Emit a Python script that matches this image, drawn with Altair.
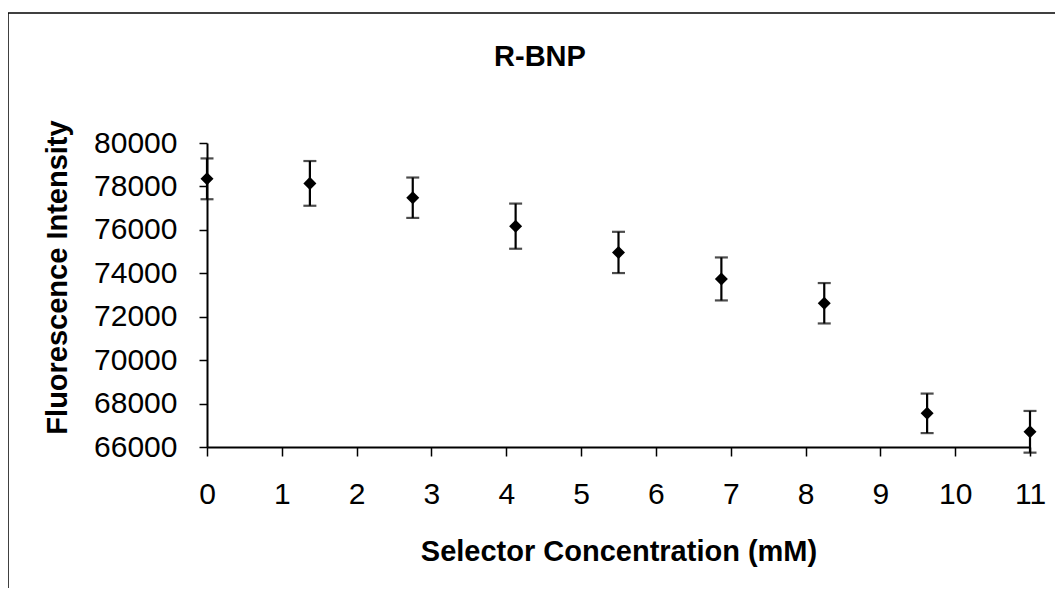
import altair as alt
import pandas as pd

# Data
concentration = [0, 1.375, 2.75, 4.125, 5.5, 6.875, 8.25, 9.625, 11]
intensity = [78350, 78140, 77480, 76170, 74960, 73740, 72620, 67550, 66700]
error = [940, 1030, 930, 1040, 950, 990, 930, 910, 960]
x_ticks = list(range(0, 12))
y_ticks = [66000, 68000, 70000, 72000, 74000, 76000, 78000, 80000]
title_text = "R-BNP"
x_title = "Selector Concentration (mM)"
y_title = "Fluorescence Intensity"

df = pd.DataFrame({
    "conc": concentration,
    "mean": intensity,
    "lo": [m - e for m, e in zip(intensity, error)],
    "hi": [m + e for m, e in zip(intensity, error)],
})

FONT = "Liberation Sans"
W, H = 823, 304

x_enc = alt.X(
    "conc:Q",
    scale=alt.Scale(domain=[0, 11], nice=False, zero=False),
    axis=alt.Axis(
        values=x_ticks, title=x_title, format="d", grid=False, labelFlush=False,
        domainColor="black", domainWidth=2, tickColor="black", tickWidth=1.5,
        tickSize=9, labelPadding=23, labelFont=FONT, labelFontSize=30,
        labelColor="black", titleFont=FONT, titleFontSize=29,
        titleFontWeight="bold", titleColor="black",
        titleBaseline="alphabetic", titleY=113, titleX=W / 2,
    ),
)
y_scale = alt.Scale(domain=[66000, 80000], nice=False, zero=False)
y_enc = alt.Y(
    "mean:Q",
    scale=y_scale,
    axis=alt.Axis(
        values=y_ticks, title=y_title, format="d", grid=False, labelFlush=False,
        domainColor="black", domainWidth=2, tickColor="black", tickWidth=1.5,
        tickSize=8, labelPadding=22, labelFont=FONT, labelFontSize=30,
        labelColor="black", titleFont=FONT, titleFontSize=29,
        titleFontWeight="bold", titleColor="black",
        titleBaseline="alphabetic", titleAngle=270, titleAlign="center",
        titleX=-141, titleY=134,
    ),
)

base = alt.Chart(df)

bars = base.mark_rule(color="black", strokeWidth=2.2).encode(
    x=alt.X("conc:Q", scale=alt.Scale(domain=[0, 11], nice=False)),
    y=alt.Y("lo:Q", scale=y_scale),
    y2="hi:Q",
)
caps_hi = base.mark_tick(color="black", orient="horizontal", size=13, thickness=2.2).encode(
    x="conc:Q", y=alt.Y("hi:Q", scale=y_scale)
)
caps_lo = base.mark_tick(color="black", orient="horizontal", size=13, thickness=2.2).encode(
    x="conc:Q", y=alt.Y("lo:Q", scale=y_scale)
)
points = base.mark_point(shape="diamond", filled=True, color="black", size=170, opacity=1).encode(
    x=x_enc, y=y_enc
)

one = pd.DataFrame({"t": [title_text]})
title = alt.Chart(one).mark_text(
    font=FONT, fontSize=29, fontWeight="bold", color="black",
    align="center", baseline="alphabetic",
).encode(text="t:N", x=alt.value(333), y=alt.value(-77))

frame_left = alt.Chart(one).mark_rule(color="black", strokeWidth=1.5).encode(
    x=alt.value(-199), y=alt.value(-130), y2=alt.value(445)
)
frame_top = alt.Chart(one).mark_rule(color="black", strokeWidth=1.5).encode(
    x=alt.value(-199), x2=alt.value(848), y=alt.value(-130)
)

chart = alt.layer(points, bars, caps_hi, caps_lo, title, frame_left, frame_top).properties(
    width=W, height=H,
    autosize=alt.AutoSizeParams(type="none"),
    padding={"left": 199, "top": 135, "right": 25, "bottom": 141},
    background="white",
).configure_view(stroke=None)

chart.save("out.html", embed_options={"renderer": "svg", "actions": False})
